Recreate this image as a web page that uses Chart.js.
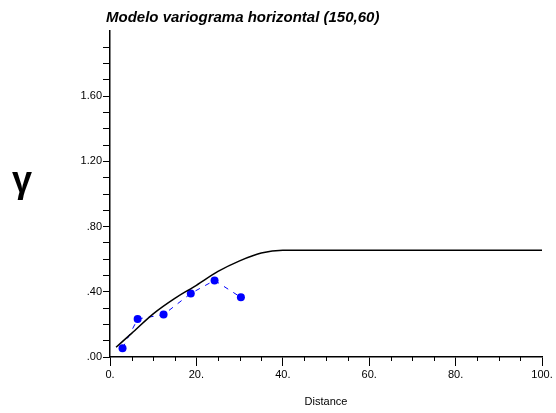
<!DOCTYPE html>
<html>
<head>
<meta charset="utf-8">
<script src="https://cdn.jsdelivr.net/npm/chart.js@4"></script>
<style>
  html, body { margin: 0; padding: 0; background: #fff; }
  #wrap { width: 556px; height: 413px; position: relative; }
</style>
</head>
<body>
<div id="wrap"><canvas id="chart"></canvas></div>
<script>
// experimental variogram points (distance, gamma)
const lagDistance = [2.9, 6.4, 12.4, 18.7, 24.2, 30.3];
const lagGamma = [0.054, 0.233, 0.26, 0.39, 0.47, 0.366];

// fitted model curve
const modelDistance = [1.4, 5, 10, 15, 20, 25, 30, 35, 40, 100];
const modelGamma = [0.06, 0.145, 0.265, 0.36, 0.44, 0.525, 0.59, 0.638, 0.655, 0.655];

const xMajorTicks = [0, 20, 40, 60, 80, 100];
const yMajorTicks = [0, 0.4, 0.8, 1.2, 1.6];

const titleText = 'Modelo variograma horizontal (150,60)';
const FONT = '"Liberation Sans", Arial, Helvetica, sans-serif';

const toPoints = (xs, ys) => xs.map((x, i) => ({ x, y: ys[i] }));

const yLabel = (v) => {
  const r = Math.round(v * 100) / 100;
  if (!yMajorTicks.some((t) => Math.abs(t - r) < 1e-6)) return '';
  return r < 1 ? r.toFixed(2).replace(/^0/, '') : r.toFixed(2);
};

const xLabel = (v) => (xMajorTicks.includes(Math.round(v)) && Math.abs(v - Math.round(v)) < 1e-6 ? `${Math.round(v)}.` : '');

// title and gamma symbol, placed against the chart area
const annotations = {
  id: 'annotations',
  afterDraw(chart) {
    const { ctx, chartArea } = chart;
    ctx.save();
    ctx.fillStyle = '#000';
    ctx.font = `italic bold 15px ${FONT}`;
    ctx.textBaseline = 'middle';
    ctx.textAlign = 'left';
    ctx.fillText(titleText, chartArea.left - 4, 18);
    ctx.font = `bold 36px ${FONT}`;
    ctx.textAlign = 'center';
    ctx.textBaseline = 'alphabetic';
    ctx.fillText('γ', 22, 192);
    ctx.restore();
  }
};

// short minor tick marks on the x axis
const minorTicks = {
  id: 'minorTicks',
  afterDraw(chart) {
    const { ctx } = chart;
    const xs = chart.scales.x;
    ctx.save();
    ctx.strokeStyle = '#000';
    ctx.lineWidth = 1;
    for (let v = 5; v < 100; v += 5) {
      if (v % 20 === 0) continue;
      const px = Math.round(xs.getPixelForValue(v)) + 0.5;
      ctx.beginPath();
      ctx.moveTo(px, xs.top);
      ctx.lineTo(px, xs.top + 4);
      ctx.stroke();
    }
    ctx.restore();
  }
};

// eslint-disable-next-line no-new
new Chart(document.getElementById('chart'), {
  type: 'scatter',
  data: {
    datasets: [{
      label: 'model',
      type: 'line',
      data: toPoints(modelDistance, modelGamma),
      borderColor: '#000',
      borderWidth: 1.5,
      pointRadius: 0,
      cubicInterpolationMode: 'monotone',
      fill: false
    }, {
      label: 'experimental',
      type: 'line',
      data: toPoints(lagDistance, lagGamma),
      borderColor: '#0000ff',
      backgroundColor: '#0000ff',
      borderWidth: 1,
      borderDash: [5, 6],
      pointRadius: 4,
      pointBorderWidth: 0,
      fill: false
    }]
  },
  options: {
    responsive: true,
    maintainAspectRatio: false,
    animation: false,
    layout: { padding: { top: 31, right: 14, left: 0, bottom: 0 } },
    plugins: {
      legend: { display: false },
      tooltip: { enabled: false }
    },
    scales: {
      x: {
        type: 'linear',
        min: 0,
        max: 100,
        afterFit(scale) { scale.height = 56; },
        ticks: {
          stepSize: 20,
          callback: xLabel,
          color: '#000',
          font: { family: FONT, size: 11 },
          padding: 2,
          maxRotation: 0
        },
        grid: { drawOnChartArea: false, color: '#000', tickLength: 9, tickWidth: 1 },
        border: { color: '#000', width: 1.5 },
        title: {
          display: true,
          text: 'Distance',
          color: '#000',
          font: { family: FONT, size: 11 },
          padding: { top: 14 }
        }
      },
      y: {
        type: 'linear',
        min: 0,
        max: 2.0,
        afterFit(scale) { scale.width = 110; },
        ticks: {
          stepSize: 0.1,
          autoSkip: false,
          callback: yLabel,
          color: '#000',
          font: { family: FONT, size: 11 },
          padding: 1
        },
        grid: {
          drawOnChartArea: false,
          tickLength: 7,
          color: (ctx) => (ctx.tick && Math.abs(ctx.tick.value - 2) < 1e-6 ? 'rgba(0,0,0,0)' : '#000')
        },
        border: { color: '#000', width: 1.5 }
      }
    }
  },
  plugins: [annotations, minorTicks]
});
</script>
</body>
</html>
